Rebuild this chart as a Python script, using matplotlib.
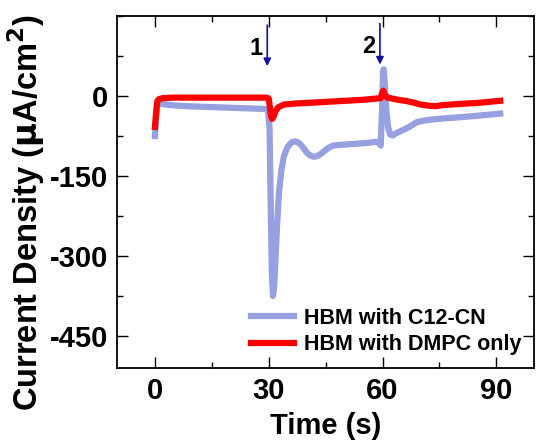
import matplotlib
matplotlib.use('Agg')
import matplotlib.pyplot as plt
from matplotlib.ticker import MultipleLocator

plt.rcParams['font.family'] = ['Liberation Sans', 'DejaVu Sans']
plt.rcParams['font.weight'] = 'bold'
plt.rcParams['axes.unicode_minus'] = False

# HBM with C12-CN (blue)
t_c12 = [0, 0.3, 0.6, 1.0, 2, 4, 8, 12, 16, 20, 24, 28, 29.8, 30.2, 30.5, 30.8,
         31.1, 31.4, 31.8, 32.2, 32.7, 33.3, 34, 35, 36, 37, 38, 39, 40, 41, 42,
         43, 44, 45, 46, 47, 48, 50, 52, 54, 56, 58, 59.0, 59.5, 59.9, 60.1, 60.3,
         60.6, 61.0, 61.5, 62.0, 62.7, 63.5, 65, 67, 69, 71, 73, 76, 80, 85, 91]
j_c12 = [-75, -40, -18, -14, -15, -17, -19, -20, -21, -22, -23, -24, -25, -60, -200, -330,
         -375, -360, -300, -240, -180, -140, -112, -95, -87, -85, -88, -96, -106, -112, -114,
         -112, -107, -101, -96, -93, -92, -91, -90, -89, -88, -86, -87, -93, -20, 45, 50,
         20, -30, -60, -72, -74, -70, -65, -58, -49, -46, -44, -42, -40, -37, -33]

# HBM with DMPC only (red)
t_dmpc = [0, 0.3, 0.6, 1.0, 2, 5, 10, 15, 20, 25, 29.5, 30.0, 30.3, 30.6, 30.9, 31.3,
          31.8, 32.5, 34, 37, 40, 45, 50, 55, 58, 59.5, 59.9, 60.2, 60.6, 61.2, 62, 64,
          66, 68, 70, 72, 74, 76, 78, 80, 85, 91]
j_dmpc = [-58, -30, -10, -6, -4, -3, -3, -3, -3, -3, -3, -5, -22, -38, -43, -38,
          -28, -21, -16, -14, -13, -11, -9, -7, -5, -4, 6, 10, 2, -3, -4, -7,
          -9, -12, -16, -18, -19, -17, -16, -15, -13, -9]

# injection markers
arrow_t = [29.6, 59.3]
arrow_top = [133, 136]
arrow_tip = [56, 59]
arrow_labels = ['1', '2']

yticks = [-450, -300, -150, 0]

fig = plt.figure(figsize=(5.37, 4.45), dpi=100)
ax = fig.add_axes([0.218, 0.173, 0.777, 0.791])

ax.plot(t_c12, j_c12, color='#97a0e0', lw=4.5, label='HBM with C12-CN')
ax.plot(t_dmpc, j_dmpc, color='#ff0000', lw=4.5, label='HBM with DMPC only')

for x, y0, y1, lab in zip(arrow_t, arrow_top, arrow_tip, arrow_labels):
    ax.annotate('', xy=(x, y1), xytext=(x, y0),
                arrowprops=dict(arrowstyle='-|>', color='#1010a0', lw=1.2,
                                mutation_scale=11, shrinkA=0, shrinkB=0))
    ax.text(x - 1.2, (y0 + y1) / 2 - 5, lab, ha='right', va='center',
            fontsize=17, fontweight='bold')

ax.set_xlim(-10, 100)
ax.set_ylim(-510, 150)
ax.xaxis.set_major_locator(MultipleLocator(30))
ax.xaxis.set_minor_locator(MultipleLocator(15))
ax.set_yticks(yticks)
ax.yaxis.set_minor_locator(MultipleLocator(75))
ax.tick_params(which='both', direction='in', top=True, right=True, width=1)
ax.tick_params(which='major', length=8, labelsize=21, pad=6.5)
ax.tick_params(which='minor', length=4)
for lbl in ax.get_xticklabels() + ax.get_yticklabels():
    lbl.set_fontweight('bold')
for s in ax.spines.values():
    s.set_linewidth(1.3)

ax.set_xlabel('Time (s)', fontsize=21, fontweight='bold', labelpad=5)
ax.set_ylabel(r'Current Density ($\mathbf{\mu}$A/cm$^\mathbf{2}$)', fontsize=23.5,
              fontweight='bold')
ax.yaxis.set_label_coords(-0.168, 0.443)

ax.legend(loc='lower right', frameon=False, fontsize=15.5, handlelength=2.0,
          handletextpad=0.45, borderaxespad=0.2, labelspacing=0.25)

fig.savefig('out.png', dpi=100)
